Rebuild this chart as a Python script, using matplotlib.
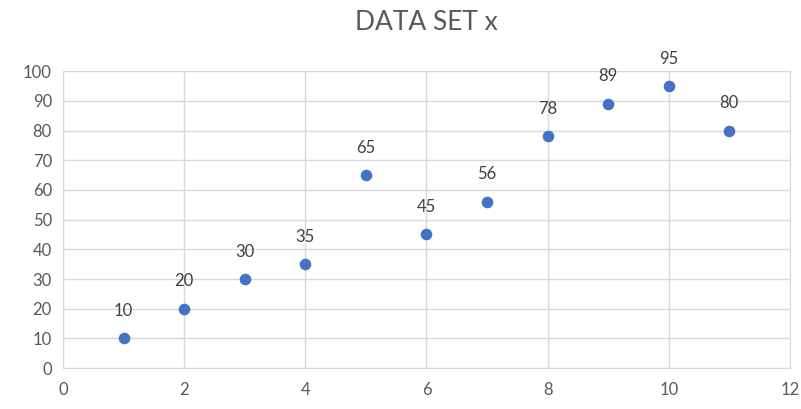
import matplotlib.pyplot as plt

x = [1, 2, 3, 4, 5, 6, 7, 8, 9, 10, 11]
y = [10, 20, 30, 35, 65, 45, 56, 78, 89, 95, 80]
labels = [str(v) for v in y]

plt.rcParams['font.family'] = ['Lato', 'DejaVu Sans']

fig = plt.figure(figsize=(8.01, 4.09), dpi=100)
ax = fig.add_axes([0.0787, 0.100, 0.9075, 0.726])

ax.scatter(x, y, s=70, color='#4472C4', zorder=3, linewidths=0)
for xi, yi, lab in zip(x, y, labels):
    ax.annotate(lab, (xi, yi), xytext=(0, 14), textcoords='offset points',
                ha='center', va='bottom', fontsize=12, color='#404040')

ax.set_xlim(0, 12)
ax.set_ylim(0, 100)
ax.set_xticks(range(0, 13, 2))
ax.set_yticks(range(0, 101, 10))
ax.grid(True, color='#D9D9D9', linewidth=1)
ax.set_axisbelow(True)
for s in ax.spines.values():
    s.set_color('#D9D9D9')
ax.tick_params(length=0, labelsize=12, colors='#595959', pad=8)
ax.tick_params(axis='x', pad=10)

fig.suptitle('DATA SET x', x=0.532, y=0.975, fontsize=19, color='#595959')

fig.savefig('out.png', dpi=100)
